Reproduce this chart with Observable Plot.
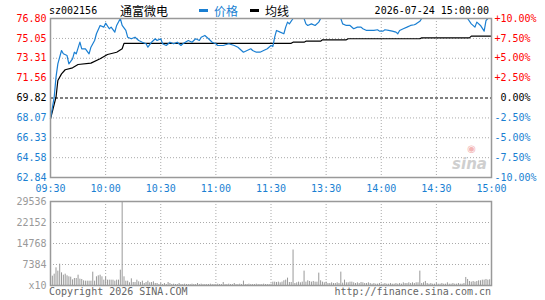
<!DOCTYPE html>
<html>
<head>
<meta charset="utf-8">
<script src="https://cdn.jsdelivr.net/npm/d3@7"></script>
<script src="https://cdn.jsdelivr.net/npm/@observablehq/plot@0.6"></script>
<style>
  html, body { margin: 0; padding: 0; background: #fff; }
  #wrap { position: relative; width: 545px; height: 300px; overflow: hidden; font-family: "DejaVu Sans Mono", monospace; font-size: 10px; }
  .abs { position: absolute; white-space: pre; }
  #price, #vol { position: absolute; left: 0; }
  #price { top: 0; }
  #vol { top: 195px; }
</style>
</head>
<body>
<div id="wrap">
  <div class="abs" style="left:49px; top:5px; line-height:12px; color:#000;">sz002156</div>
  <div class="abs" style="left:120px; top:3px; line-height:16px; font-size:12px; font-family:'Noto Sans CJK SC', sans-serif; color:#000;">通富微电</div>
  <div class="abs" style="left:199px; top:9px; width:9px; height:3px; background:#1a7fd2;"></div>
  <div class="abs" style="left:214px; top:3px; line-height:16px; font-size:12px; font-family:'Noto Sans CJK SC', sans-serif; color:#1a7fd2;">价格</div>
  <div class="abs" style="left:250px; top:9px; width:9px; height:3px; background:#000;"></div>
  <div class="abs" style="left:265px; top:3px; line-height:16px; font-size:12px; font-family:'Noto Sans CJK SC', sans-serif; color:#000;">均线</div>
  <div class="abs" style="right:56px; top:5px; line-height:12px; color:#000;">2026-07-24 15:00:00</div>
  <div id="price"></div>
  <div id="vol"></div>
  <div class="abs" style="left:49px; top:286px; line-height:12px; color:#666;">Copyright 2026 SINA.COM</div>
  <div class="abs" style="right:54px; top:286px; line-height:12px; color:#666;">http://finance.sina.com.cn</div>
</div>
<script>
// ---------- data ----------
const prevClose = 69.82;
const priceTicks = [76.80, 75.05, 73.31, 71.56, 69.82, 68.07, 66.33, 64.58, 62.84];
const pctLabels = ["+10.00%", "+7.50%", "+5.00%", "+2.50%", "\u00a00.00%", "-2.50%", "-5.00%", "-7.50%", "-10.00%"];
const timeTicks = [0, 30, 60, 90, 120, 150, 180, 210, 240];
const timeLabels = ["09:30", "10:00", "10:30", "11:00", "11:30", "13:30", "14:00", "14:30", "15:00"];
const volTicks = [29536, 22152, 14768, 7384];
const volMax = 29536;
const volUnitLabel = "x10";

// price line (minute index from 09:30, price)
const priceMin = [0,2,3,4,6,7,9,10,12,13,14,16,17,19,21,22,24,25,27,29,30,32,33,35,36,38,39,41,42,44,46,48,50,52,53,55,57,58,60,61,
  63,65,67,69,71,72,75,77,79,81,82,84,86,88,90,91,94,97,100,102,105,107,109,110,112,114,116,118,120,121,
  122,123,125,127,128,129,130,132,138,139,140,142,144,146,147,158,159,161,163,165,167,169,170,172,174,176,178,179,181,
  182,184,186,188,189,190,192,194,196,198,199,201,202,227,229,231,232,234,236,237,238,240];
const priceVal = [68.00,69.89,71.65,72.82,73.99,73.70,73.55,72.82,73.26,73.84,73.70,74.72,74.14,74.14,73.70,74.28,74.87,75.46,76.19,76.04,76.39,75.90,76.04,75.60,76.19,76.80,76.19,75.75,75.16,75.02,75.16,74.87,74.72,74.58,74.28,74.72,75.02,74.87,75.02,74.58,
  74.43,74.72,74.58,74.72,74.43,74.58,74.87,74.72,75.02,74.87,75.16,75.31,75.02,74.72,74.58,74.43,74.43,74.58,74.43,74.28,73.84,73.99,74.14,73.99,73.84,73.84,73.99,74.14,74.43,74.34,
  75.16,75.75,75.60,75.46,76.04,76.48,76.33,76.80,76.80,76.33,76.19,76.33,76.19,76.48,76.80,76.80,76.33,76.19,76.19,75.90,76.04,76.04,75.90,75.75,75.75,75.75,75.81,75.69,75.69,
  75.81,75.75,75.69,75.60,75.46,75.75,75.90,76.04,76.19,76.25,76.33,76.55,76.80,76.80,76.33,76.04,76.48,76.19,75.69,76.62,76.80,76.80];

// average price line
const avgMin = [0,3,4,6,8,12,15,22,27,31,36,39,40,131,132,138,139,147,148,161,162,201,202,228,229,240];
const avgVal = [68.00,69.89,71.36,71.94,72.30,72.47,72.76,72.88,73.26,73.64,73.84,74.14,74.62,74.62,74.72,74.72,74.81,74.81,74.93,74.93,75.02,75.02,75.10,75.10,75.25,75.25];

// per-minute volume (x10)
const volume = [
  1875,3280,3985,6210,5040,7500,4450,3630,3985,3400,
  3050,2930,1990,2460,2460,3630,2230,2110,1640,1520,
  1520,1520,1520,4690,1520,3050,3400,3630,3050,1875,
  2930,1875,1875,1875,1875,1520,1875,1875,5390,29536,
  3050,1520,1520,940,2340,1050,1050,1875,1290,1050,
  1520,700,1050,1520,940,1050,1290,700,700,350,
  700,350,700,350,1050,700,350,470,350,350,
  700,350,350,470,350,350,350,470,350,350,
  700,350,470,350,350,350,350,470,350,350,
  350,470,350,350,1060,350,350,470,350,350,
  700,350,350,470,350,1530,350,350,470,350,
  350,350,470,350,350,350,470,350,350,350,
  470,1180,1180,1060,1180,940,1180,1650,1880,2590,
  1060,1060,12480,700,940,1180,940,1180,5060,1180,
  1650,1420,1180,1420,1180,1180,4350,1650,1180,940,
  1180,700,700,940,700,700,940,700,4700,820,
  1880,940,940,1180,1180,940,700,940,700,1060,
  940,700,700,940,700,470,700,470,470,700,
  470,470,700,470,470,700,470,470,700,470,
  700,470,940,700,700,940,700,940,700,940,
  940,5060,700,940,1420,700,470,700,470,470,
  700,470,470,700,470,470,940,470,470,700,
  470,470,700,470,470,700,2820,2120,1410,1180,
  1410,1180,1410,1650,1650,1880,1880,2120,1880,2000,
  2120
];

// ---------- styling ----------
const RED = "#ff0000", BLUE = "#1a7fd2", GRID = "#aaaaaa", FRAME = "#999999";
const FONT = "DejaVu Sans Mono";
const priceData = priceMin.map((m, i) => ({m, v: priceVal[i]}));
const avgData = avgMin.map((m, i) => ({m, v: avgVal[i]}));
const volData = volume.map((v, i) => ({m: i, v}));
const labelColor = d => d > prevClose + 1e-9 ? RED : (d < prevClose - 1e-9 ? BLUE : "#000");

const pricePlot = Plot.plot({
  width: 545, height: 195,
  marginLeft: 50, marginRight: 54, marginTop: 18, marginBottom: 18,
  x: {domain: [0, 240], axis: null},
  y: {domain: [62.84, 76.80], axis: null},
  style: {fontFamily: FONT, fontSize: "10px", background: "transparent", overflow: "visible"},
  marks: [
    Plot.ruleY(priceTicks.filter(d => d !== prevClose && d !== priceTicks[0] && d !== priceTicks[priceTicks.length - 1]), {stroke: GRID, strokeDasharray: "1,2"}),
    Plot.ruleX(timeTicks.slice(1, -1), {stroke: GRID, strokeDasharray: "1,2"}),
    Plot.ruleY([prevClose], {stroke: "#000", strokeDasharray: "3,2"}),
    Plot.text(["sina"], {frameAnchor: "bottom-right", dx: -22, dy: -9, text: d => d, fill: "#cfcfcf", fontSize: 15, fontWeight: "bold", fontStyle: "italic", fontFamily: "DejaVu Sans", textAnchor: "middle"}),
    Plot.text(["◉"], {frameAnchor: "bottom-right", dx: -20, dy: -26, text: d => d, fill: "#f3b5b5", fontSize: 10, fontFamily: "DejaVu Sans", textAnchor: "middle"}),
    Plot.line(avgData, {x: "m", y: "v", stroke: "#000", strokeWidth: 1.2}),
    Plot.line(priceData, {x: "m", y: "v", stroke: BLUE, strokeWidth: 1.2}),
    Plot.frame({stroke: FRAME, strokeWidth: 1.5}),
    Plot.text(priceTicks, {frameAnchor: "left", y: d => d, text: d => d.toFixed(2), textAnchor: "end", dx: -4, fill: labelColor}),
    Plot.text(priceTicks, {frameAnchor: "right", y: d => d, text: (d, i) => pctLabels[i], textAnchor: "start", dx: 3, fill: labelColor}),
    Plot.text(timeTicks, {frameAnchor: "bottom", x: d => d, text: (d, i) => timeLabels[i], dy: 11, lineAnchor: "middle", fill: BLUE})
  ]
});
document.getElementById("price").appendChild(pricePlot);

const volPlot = Plot.plot({
  width: 545, height: 105,
  marginLeft: 50, marginRight: 54, marginTop: 6, marginBottom: 15,
  x: {domain: [0, 240], axis: null},
  y: {domain: [0, volMax], axis: null},
  style: {fontFamily: FONT, fontSize: "10px", background: "transparent", overflow: "visible"},
  marks: [
    Plot.ruleY(volTicks.slice(1), {stroke: GRID, strokeDasharray: "1,2"}),
    Plot.ruleX(timeTicks.slice(1, -1), {stroke: GRID, strokeDasharray: "1,2"}),
    Plot.ruleX(volData, {x: "m", y1: 0, y2: "v", stroke: "#999", strokeWidth: 1}),
    Plot.frame({stroke: FRAME, strokeWidth: 1.5}),
    Plot.text(volTicks, {frameAnchor: "left", y: d => d, text: d => String(d), textAnchor: "end", dx: -4, fill: "#999"}),
    Plot.text([volUnitLabel], {frameAnchor: "bottom-left", text: d => d, textAnchor: "end", dx: -4, lineAnchor: "middle", fill: "#999"})
  ]
});
document.getElementById("vol").appendChild(volPlot);
</script>
</body>
</html>
